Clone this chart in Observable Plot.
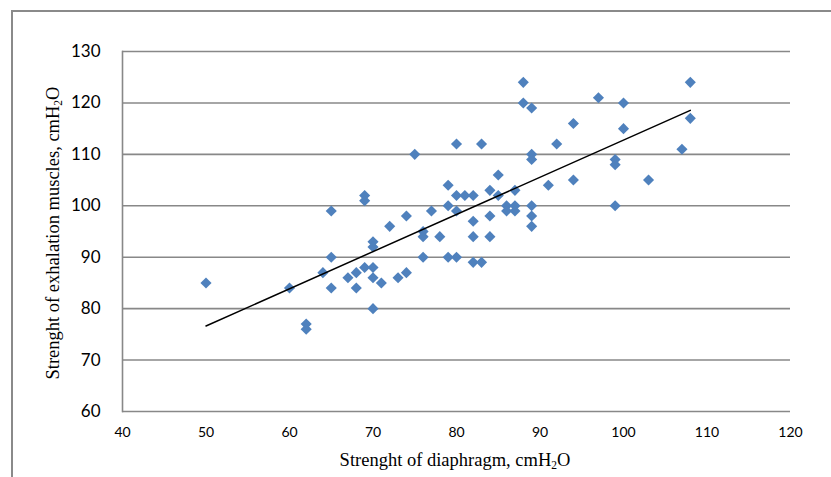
<!DOCTYPE html>
<html>
<head>
<meta charset="utf-8">
<script src="https://cdn.jsdelivr.net/npm/d3@7"></script>
<script src="https://cdn.jsdelivr.net/npm/@observablehq/plot@0.6"></script>
<style>
  html, body { margin: 0; padding: 0; background: #fff; }
  #wrap { position: relative; width: 831px; height: 477px; overflow: hidden; }
  #frame { position: absolute; left: 11px; top: 10px; width: 900px; height: 600px;
           border-left: 2px solid #8a8a8a; border-top: 2px solid #8a8a8a; box-sizing: border-box; }
  .title { position: absolute; font-family: "Liberation Serif", "Times New Roman", serif;
           font-size: 18.5px; color: #000; white-space: nowrap; line-height: 1; }
  .title sub { font-size: 0.62em; vertical-align: -0.3em; }
  #xtitle { left: 455px; top: 451px; transform: translateX(-50%); }
  #ytitle { left: 54px; top: 233px; transform: translate(-50%, -50%) rotate(-90deg); }
  #chart { position: absolute; left: 0; top: 0; }
</style>
</head>
<body>
<div id="wrap">
  <div id="frame"></div>
  <div id="chart"></div>
  <div class="title" id="xtitle">Strenght of diaphragm, cmH<sub>2</sub>O</div>
  <div class="title" id="ytitle">Strenght of exhalation muscles, cmH<sub>2</sub>O</div>
</div>
<script>
// Diaphragm strength (x) and exhalation muscle strength (y), cmH2O
const diaphragm = [
  50, 60, 62, 62, 64, 65, 65, 65, 67, 68, 68, 69, 69, 69, 70, 70, 70, 70, 70,
  71, 72, 73, 74, 74, 75, 76, 76, 76, 77, 78, 79, 79, 79, 80, 80, 80, 80, 81,
  82, 82, 82, 82, 83, 83, 84, 84, 84, 85, 85, 86, 86, 87, 87, 87, 88, 88, 89,
  89, 89, 89, 89, 89, 91, 92, 94, 94, 97, 99, 99, 99, 100, 100, 103, 107, 108, 108
];
const exhalation = [
  85, 84, 77, 76, 87, 99, 90, 84, 86, 87, 84, 102, 101, 88, 93, 92, 88, 86, 80,
  85, 96, 86, 98, 87, 110, 95, 94, 90, 99, 94, 104, 100, 90, 112, 102, 99, 90, 102,
  102, 97, 94, 89, 112, 89, 103, 98, 94, 106, 102, 100, 99, 103, 100, 99, 124, 120, 119,
  110, 109, 100, 98, 96, 104, 112, 116, 105, 121, 109, 108, 100, 120, 115, 105, 111, 124, 117
];
const xTicks = [40, 50, 60, 70, 80, 90, 100, 110, 120];
const yTicks = [60, 70, 80, 90, 100, 110, 120, 130];

const data = diaphragm.map((d, i) => ({x: d, y: exhalation[i]}));

const chart = Plot.plot({
  width: 831,
  height: 477,
  marginLeft: 122,
  marginRight: 41,
  marginTop: 51,
  marginBottom: 66,
  style: {background: "transparent", overflow: "visible"},
  x: {domain: [40, 120]},
  y: {domain: [60, 130]},
  marks: [
    Plot.gridY(yTicks, {stroke: "#888888", strokeOpacity: 1, strokeWidth: 1.6}),
    Plot.frame({anchor: "left", stroke: "#888888", strokeWidth: 1.6}),
    Plot.axisY(yTicks, {tickSize: 0, tickPadding: 22, fontSize: 17, fontFamily: "Lato", label: null, fill: "#000"}),
    Plot.axisX(xTicks, {tickSize: 0, tickPadding: 16, fontSize: 14, fontFamily: "Lato", label: null, fill: "#000"}),
    Plot.dot(data, {x: "x", y: "y", symbol: "diamond2", r: 5, fill: "#4F81BD", stroke: "none"}),
    Plot.linearRegressionY(data, {x: "x", y: "y", ci: 0, stroke: "#000", strokeWidth: 1.5})
  ]
});
document.getElementById("chart").appendChild(chart);
</script>
</body>
</html>
